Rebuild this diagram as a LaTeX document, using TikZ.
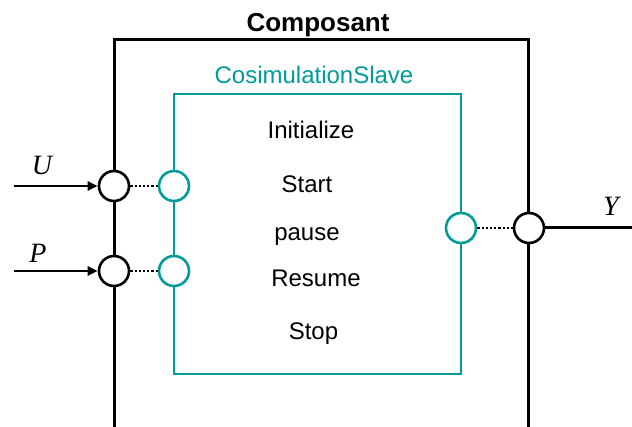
\documentclass[tikz,border=0pt]{standalone}
\usepackage{fontspec}
\setmainfont{Liberation Sans}
\newfontfamily\serifit{Liberation Serif}
\usetikzlibrary{arrows.meta}
\definecolor{tealc}{RGB}{0,155,155}
\begin{document}
\begin{tikzpicture}[x=1pt,y=-1pt,
  blk/.style={line width=3pt,black},
  tl/.style={line width=2.8pt,tealc},
  port/.style={circle,draw,fill=white,minimum size=30pt,inner sep=0pt,line width=2.6pt},
  bport/.style={port,draw=black},
  tport/.style={port,draw=tealc},
  dots/.style={line width=2.2pt,dotted},
  lab/.style={font=\fontsize{24}{26}\selectfont,inner sep=0pt,anchor=base},
  var/.style={font=\serifit\itshape\fontsize{28}{30}\selectfont,inner sep=0pt,anchor=base},
  inarrow/.style={line width=2.6pt,-{Triangle[length=10pt,width=9pt]}}]
\useasboundingbox (0,0) rectangle (632,427);
% outer component
\coordinate (obl) at (114,427);
\coordinate (obr) at (528,427);
\draw[blk] (obl) -- (114,40) -- (528,40) -- (obr);
\node[font=\bfseries\fontsize{26}{28}\selectfont,inner sep=0pt,anchor=base] (comp) at (318,32) {Composant};
% inner slave
\draw[tl] (174,94) rectangle (461,374);
\node[lab,text=tealc] (slave) at (314,84) {CosimulationSlave};
\node[lab] (init) at (311,139) {Initialize};
\node[lab] (start) at (307,193) {Start};
\node[lab] (pause) at (307,241) {pause};
\node[lab] (resume) at (316,287) {Resume};
\node[lab] (stop) at (313.5,340) {Stop};
% ports
\node[bport] (bu) at (114,186) {};
\node[bport] (bp) at (114,271) {};
\node[tport] (tu) at (174,186) {};
\node[tport] (tp) at (174,271) {};
\node[tport] (ty) at (461,228) {};
\node[bport] (by) at (529,228) {};
\draw[dots] (bu.east) -- (tu.west);
\draw[dots] (bp.east) -- (tp.west);
\draw[dots] (ty.east) -- (by.west);
% external signals
\coordinate (us) at (14,186);
\coordinate (ps) at (14,271);
\coordinate (ye) at (632,228);
\draw[inarrow] (us) -- (bu.west);
\draw[inarrow] (ps) -- (bp.west);
\draw[blk] (by.east) -- (ye);
\node[var] (U) at (42,175) {U};
\node[var] (P) at (38,263) {P};
\node[var] (Y) at (611,216) {Y};
\end{tikzpicture}
\end{document}
